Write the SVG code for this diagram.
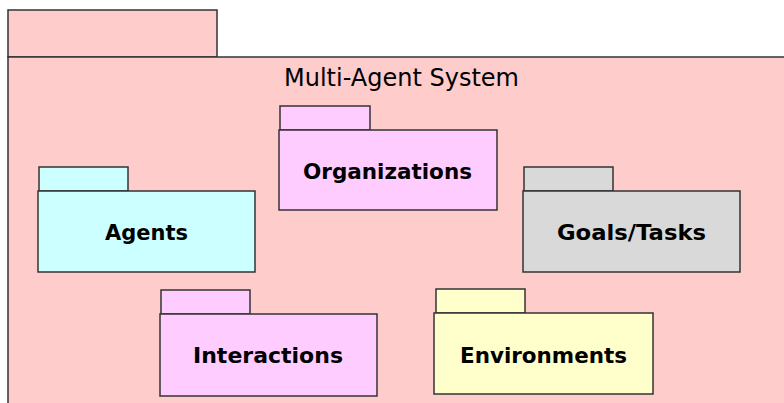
<svg xmlns="http://www.w3.org/2000/svg" width="784" height="403" viewBox="0 0 784 403">
<style>
.frame{fill:#FFCCCC;stroke:#333;stroke-width:1.5}
.pk{stroke:#333;stroke-width:1.5}
.lbl{font-family:"DejaVu Sans",Verdana,sans-serif;font-weight:bold;font-size:22px;text-anchor:middle;fill:#000}
.title{font-family:"DejaVu Sans",Verdana,sans-serif;font-size:24.5px;text-anchor:middle;fill:#000}
</style>
<rect width="784" height="403" fill="#fff"/>
<g id="mas">
<rect class="frame" x="8" y="10" width="209" height="47"/>
<rect class="frame" x="8" y="57" width="790" height="360"/>
<text class="title" x="401.5" y="86" textLength="235" lengthAdjust="spacingAndGlyphs">Multi-Agent System</text>
</g>
<g id="connectors"></g>
<g id="organizations">
<rect class="pk" fill="#FFCCFF" x="280" y="106" width="90" height="24"/>
<rect class="pk" fill="#FFCCFF" x="279" y="130" width="218" height="80"/>
<text class="lbl" x="387.5" y="179" textLength="169" lengthAdjust="spacingAndGlyphs">Organizations</text>
</g>
<g id="agents">
<rect class="pk" fill="#CCFFFF" x="39" y="167" width="89" height="24"/>
<rect class="pk" fill="#CCFFFF" x="38" y="191" width="217" height="81"/>
<text class="lbl" x="146.5" y="240" textLength="83" lengthAdjust="spacingAndGlyphs">Agents</text>
</g>
<g id="goals">
<rect class="pk" fill="#D9D9D9" x="524" y="167" width="89" height="24"/>
<rect class="pk" fill="#D9D9D9" x="523" y="191" width="217" height="81"/>
<text class="lbl" x="631.5" y="240" textLength="149" lengthAdjust="spacingAndGlyphs">Goals/Tasks</text>
</g>
<g id="interactions">
<rect class="pk" fill="#FFCCFF" x="161" y="290" width="89" height="24"/>
<rect class="pk" fill="#FFCCFF" x="160" y="314" width="217" height="82"/>
<text class="lbl" x="268" y="363" textLength="150" lengthAdjust="spacingAndGlyphs">Interactions</text>
</g>
<g id="environments">
<rect class="pk" fill="#FFFFCC" x="436" y="289" width="89" height="24"/>
<rect class="pk" fill="#FFFFCC" x="434" y="313" width="219" height="81"/>
<text class="lbl" x="543.5" y="363" textLength="167" lengthAdjust="spacingAndGlyphs">Environments</text>
</g>
</svg>
